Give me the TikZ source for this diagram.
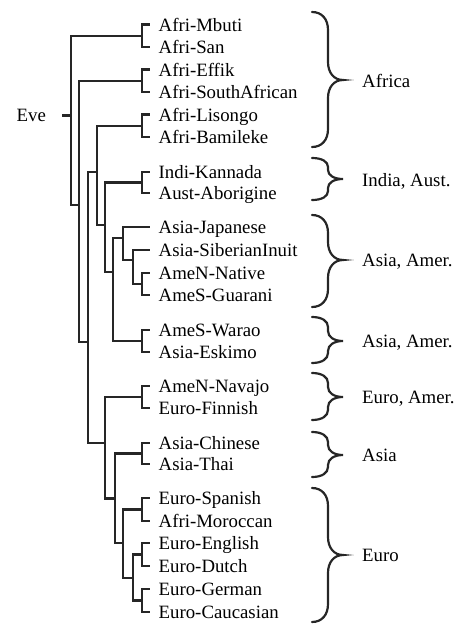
\documentclass[tikz,border=0pt]{standalone}
\usepackage{fontspec}
\setmainfont{Liberation Serif}
\newcommand\curlybr[4]{%
  \draw[br] (312,#1) .. controls (322,#1) and (328,{#1+0.4*#4}) .. (328,{#1+#4})
    -- (328,{#2-#4}) .. controls (328,{#2-0.4*#4}) and (334,#2) .. (343,#2)
    .. controls (334,#2) and (328,{#2+0.4*#4}) .. (328,{#2+#4})
    -- (328,{#3-#4}) .. controls (328,{#3-0.4*#4}) and (322,#3) .. (312,#3);}
\begin{document}
\begin{tikzpicture}[x=1pt,y=-1pt,
  tree/.style={line width=2.5pt,draw=black!85},
  br/.style={line width=2.2pt,draw=black!85,line cap=round},
  leaf/.style={anchor=base west,inner sep=0pt,font=\fontsize{18.8}{22}\selectfont},
  grp/.style={anchor=base west,inner sep=0pt,font=\fontsize{18.8}{22}\selectfont}]
\useasboundingbox (0,0) rectangle (456,624);
% leaves
\foreach \i/\t/\y in {1/Afri-Mbuti/24.5,2/Afri-San/47,3/Afri-Effik/69.5,4/Afri-SouthAfrican/92,
  5/Afri-Lisongo/114.5,6/Afri-Bamileke/137,7/Indi-Kannada/172,8/Aust-Aborigine/193,
  9/Asia-Japanese/227,10/Asia-SiberianInuit/250,11/AmeN-Native/273,12/AmeS-Guarani/295,
  13/AmeS-Warao/330,14/Asia-Eskimo/352,15/AmeN-Navajo/386,16/Euro-Finnish/408,
  17/Asia-Chinese/443,18/Asia-Thai/464,19/Euro-Spanish/498,20/Afri-Moroccan/521,
  21/Euro-English/543,22/Euro-Dutch/566,23/Euro-German/589,24/Euro-Caucasian/612}{
  \node[leaf] (l\i) at (158.5,{\y+6.5}) {\t};
  \coordinate (e\i) at (150,\y);
}
% root label
\node[leaf] (eve) at (16.5,121.5) {Eve};
\coordinate (evee) at (62,115.5);
% clusters
\coordinate (c1) at (142,35.75);
\coordinate (c2) at (142,80.75);
\coordinate (c3) at (142,125.75);
\coordinate (c4) at (142,182.5);
\coordinate (c5) at (142,284);
\coordinate (c6) at (142,341);
\coordinate (c7) at (142,397);
\coordinate (c8) at (142,453.5);
\coordinate (c9) at (142,509.5);
\coordinate (c10) at (142,554.5);
\coordinate (c11) at (142,600.5);
\foreach \c/\a/\b in {1/1/2,2/3/4,3/5/6,4/7/8,5/11/12,6/13/14,7/15/16,8/17/18,9/19/20,10/21/22,11/23/24}{
  \draw[tree] (c\c) |- (e\a);
  \draw[tree] (c\c) |- (e\b);
}
% internal nodes
\coordinate (r) at (71,115.5);
\coordinate (n80) at (79,205);
\coordinate (n88) at (88,342);
\coordinate (n97) at (97,172);
\coordinate (n105a) at (105,225);
\coordinate (n113a) at (113,272);
\coordinate (n123a) at (123,238);
\coordinate (n133a) at (133,260);
\coordinate (n105b) at (105,443);
\coordinate (n115b) at (115,498.5);
\coordinate (n123b) at (123,543);
\coordinate (n133b) at (133,578);
\draw[tree] (evee) -- (r);
\foreach \p/\q in {r/c1,r/n80,n80/c2,n80/n88,n88/n97,n88/n105b,n97/c3,n97/n105a,
  n105a/c4,n105a/n113a,n113a/n123a,n113a/c6,n123a/e9,n123a/n133a,n133a/e10,n133a/c5,
  n105b/c7,n105b/n115b,n115b/c8,n115b/n123b,n123b/c9,n123b/n133b,n133b/c10,n133b/c11}{
  \draw[tree] (\p) |- (\q);
}
% braces
\curlybr{12}{80}{147}{18}
\curlybr{158}{179}{200}{9}
\curlybr{215}{260}{307}{18}
\curlybr{317}{341}{363}{10}
\curlybr{373}{397}{420}{10}
\curlybr{432}{455}{477}{10}
\curlybr{488}{555}{622}{18}
% group labels
\node[grp] (g1) at (362,87) {Africa};
\node[grp] (g2) at (362,186) {India, Aust.};
\node[grp] (g3) at (362,266.5) {Asia, Amer.};
\node[grp] (g4) at (362,347.5) {Asia, Amer.};
\node[grp] (g5) at (362,403.5) {Euro, Amer.};
\node[grp] (g6) at (362,461.5) {Asia};
\node[grp] (g7) at (362,561.5) {Euro};
\end{tikzpicture}
\end{document}
